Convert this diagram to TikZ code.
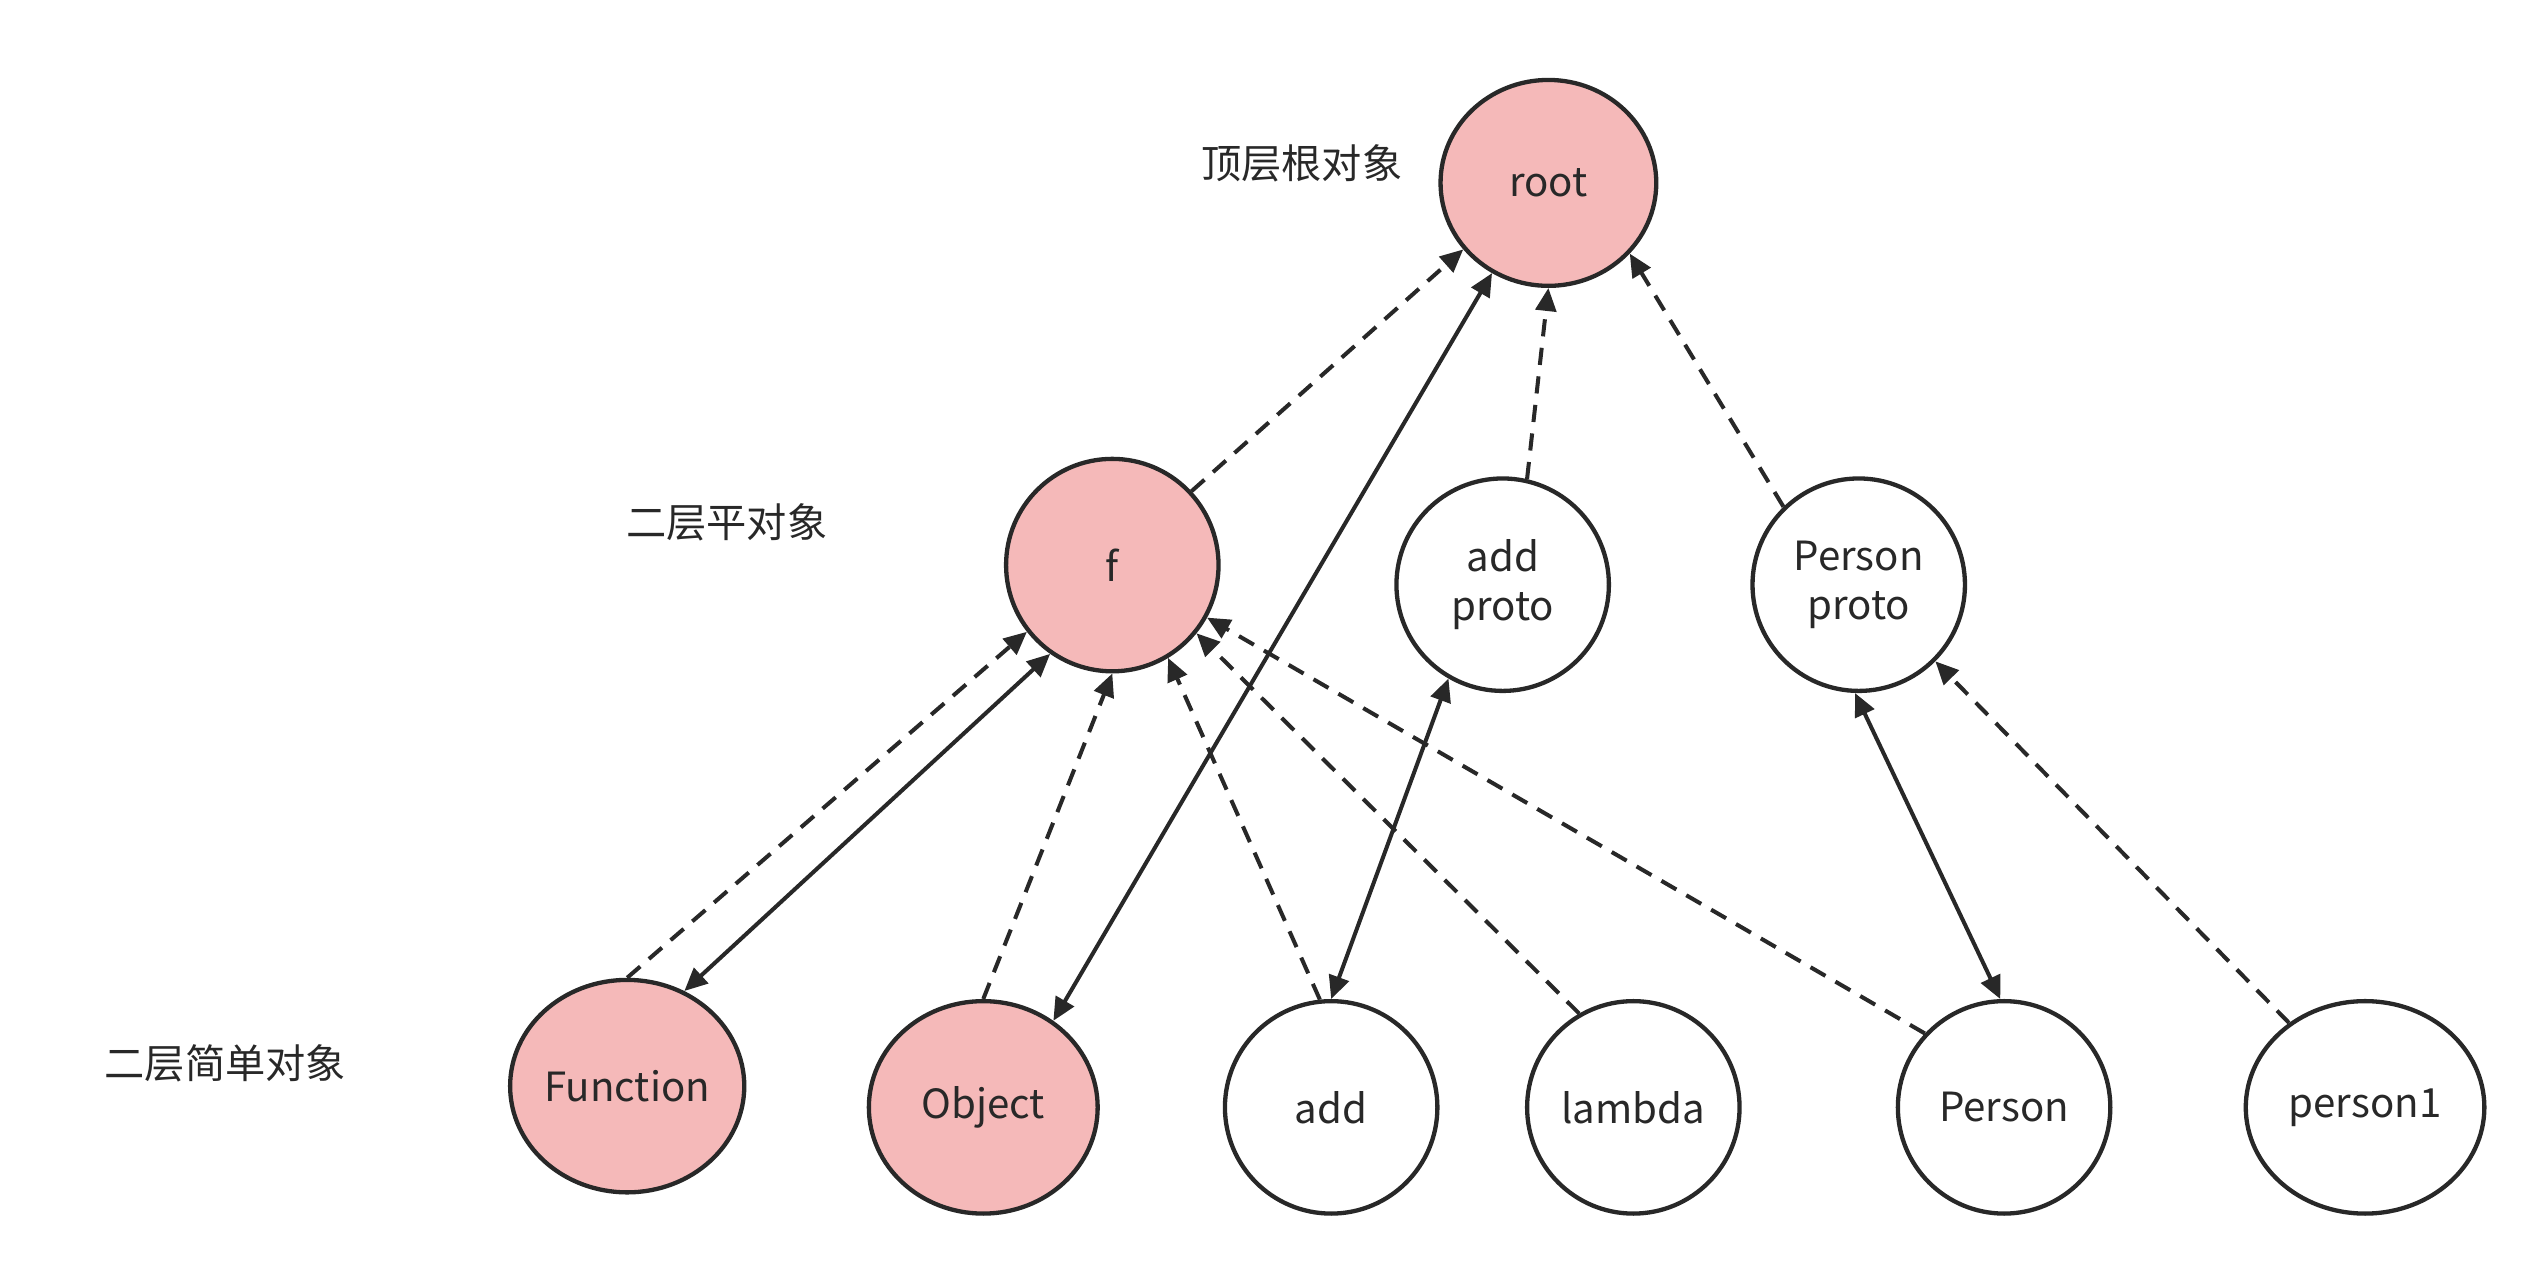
\documentclass[tikz,border=0pt]{standalone}
\usepackage{fontspec}
\setmainfont{Noto Sans CJK SC}
\usetikzlibrary{shapes.geometric, arrows.meta}
\definecolor{objfill}{RGB}{245, 185, 185}
\definecolor{objline}{RGB}{40, 40, 40}

\begin{document}
\begin{tikzpicture}[x=0.01cm, y=0.01cm,
    obj/.style={ellipse, draw=objline, line width=0.75pt, fill=white,
                minimum width=1.3cm, minimum height=1.3cm, align=center,
                font=\fontsize{7}{8.5}\selectfont, text=objline, inner sep=0pt},
    core/.style={obj, fill=objfill},
    lab/.style={font=\fontsize{7}{8.5}\selectfont, text=objline},
    link/.style={draw=objline, line width=0.7pt, -{Triangle[length=4pt, width=3.6pt]}},
    proto/.style={link, dashed, dash pattern=on 3pt off 2pt},
    both/.style={link, {Triangle[length=4pt, width=3.6pt]}-{Triangle[length=4pt, width=3.6pt]}}]

    \useasboundingbox (0,0) rectangle (1560,783);

    % Objects
    \node[core, minimum width=1.32cm, minimum height=1.26cm] (root) at (948,671) {root};
    \node[core] (f) at (681,437) {f};
    \node[obj] (addp) at (920,425) {add\\proto};
    \node[obj] (personp) at (1138,425) {Person\\proto};
    \node[core, minimum width=1.4cm] (Function) at (384,118) {Function};
    \node[core, minimum width=1.4cm] (Object) at (602,105) {Object};
    \node[obj] (add) at (815,105) {add};
    \node[obj] (lambda) at (1000,105) {lambda};
    \node[obj] (Person) at (1227,105) {Person};
    \node[obj, minimum width=1.46cm] (person1) at (1448,105) {person1};

    % Labels
    \node[lab] (l1) at (797,683) {顶层根对象};
    \node[lab] (l2) at (445,463) {二层平对象};
    \node[lab] (l3) at (138,132) {二层简单对象};

    % Prototype links
    \draw[proto] (f.43) -- (root.218);
    \draw[proto] (addp.77) -- (root.270);
    \draw[proto] (personp.134) -- (root.319);
    \draw[proto] (Function.90) -- (f.218);
    \draw[proto] (Object.90) -- (f.270);
    \draw[proto] (add.96) -- (f.301);
    \draw[proto] (lambda.120) -- (f.321);
    \draw[proto] (Person.137) -- (f.331);
    \draw[proto] (person1.132) -- (personp.315);

    % Constructor links
    \draw[both] (Function.59) -- (f.235);
    \draw[both] (Object.51) -- (root.238);
    \draw[both] (add.90) -- (addp.240);
    \draw[both] (Person.92) -- (personp.268);
\end{tikzpicture}
\end{document}
